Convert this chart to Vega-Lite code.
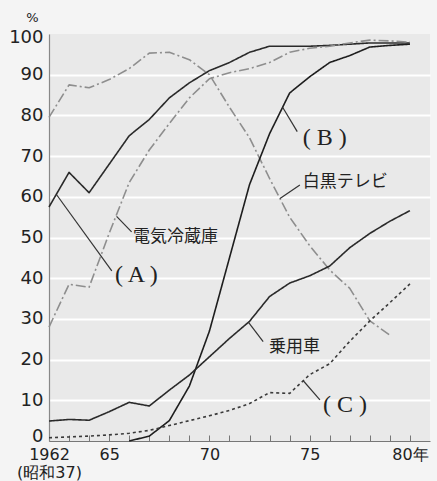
{
  "$schema": "https://vega.github.io/schema/vega-lite/v6.json",
  "width": 381,
  "height": 407,
  "autosize": {"type": "none"},
  "padding": {"left": 49, "top": 34, "right": 7, "bottom": 40},
  "background": "#f4f4f4",
  "config": {"view": {"fill": "#e9e9e9", "stroke": null}},
  "resolve": {"axis": {"x": "independent"}},
  "datasets": {
    "lines": [
      {"s": "A", "year": 1962, "v": 57.5}, {"s": "A", "year": 1963, "v": 66}, {"s": "A", "year": 1964, "v": 61}, {"s": "A", "year": 1965, "v": 68}, {"s": "A", "year": 1966, "v": 75}, {"s": "A", "year": 1967, "v": 79}, {"s": "A", "year": 1968, "v": 84.3}, {"s": "A", "year": 1969, "v": 88}, {"s": "A", "year": 1970, "v": 91}, {"s": "A", "year": 1971, "v": 93}, {"s": "A", "year": 1972, "v": 95.5}, {"s": "A", "year": 1973, "v": 97}, {"s": "A", "year": 1974, "v": 97}, {"s": "A", "year": 1975, "v": 97}, {"s": "A", "year": 1976, "v": 97.2}, {"s": "A", "year": 1977, "v": 97.5}, {"s": "A", "year": 1978, "v": 97.8}, {"s": "A", "year": 1979, "v": 97.8}, {"s": "A", "year": 1980, "v": 97.8},
      {"s": "fridge", "year": 1962, "v": 28}, {"s": "fridge", "year": 1963, "v": 38.5}, {"s": "fridge", "year": 1964, "v": 37.8}, {"s": "fridge", "year": 1965, "v": 51}, {"s": "fridge", "year": 1966, "v": 63.5}, {"s": "fridge", "year": 1967, "v": 71.5}, {"s": "fridge", "year": 1968, "v": 78}, {"s": "fridge", "year": 1969, "v": 84.3}, {"s": "fridge", "year": 1970, "v": 89}, {"s": "fridge", "year": 1971, "v": 90.5}, {"s": "fridge", "year": 1972, "v": 91.5}, {"s": "fridge", "year": 1973, "v": 93}, {"s": "fridge", "year": 1974, "v": 95.5}, {"s": "fridge", "year": 1975, "v": 96.5}, {"s": "fridge", "year": 1976, "v": 97}, {"s": "fridge", "year": 1977, "v": 97.8}, {"s": "fridge", "year": 1978, "v": 98.5}, {"s": "fridge", "year": 1979, "v": 98.3}, {"s": "fridge", "year": 1980, "v": 98},
      {"s": "bw", "year": 1962, "v": 79.5}, {"s": "bw", "year": 1963, "v": 87.5}, {"s": "bw", "year": 1964, "v": 86.8}, {"s": "bw", "year": 1965, "v": 88.8}, {"s": "bw", "year": 1966, "v": 91.5}, {"s": "bw", "year": 1967, "v": 95.3}, {"s": "bw", "year": 1968, "v": 95.5}, {"s": "bw", "year": 1969, "v": 93.7}, {"s": "bw", "year": 1970, "v": 90}, {"s": "bw", "year": 1971, "v": 82}, {"s": "bw", "year": 1972, "v": 74.5}, {"s": "bw", "year": 1973, "v": 64.5}, {"s": "bw", "year": 1974, "v": 55}, {"s": "bw", "year": 1975, "v": 48}, {"s": "bw", "year": 1976, "v": 42}, {"s": "bw", "year": 1977, "v": 37.5}, {"s": "bw", "year": 1978, "v": 29.5}, {"s": "bw", "year": 1979, "v": 26},
      {"s": "B", "year": 1966, "v": 0}, {"s": "B", "year": 1967, "v": 1.2}, {"s": "B", "year": 1968, "v": 5}, {"s": "B", "year": 1969, "v": 13.5}, {"s": "B", "year": 1970, "v": 27}, {"s": "B", "year": 1971, "v": 45}, {"s": "B", "year": 1972, "v": 63}, {"s": "B", "year": 1973, "v": 75.5}, {"s": "B", "year": 1974, "v": 85.5}, {"s": "B", "year": 1975, "v": 89.5}, {"s": "B", "year": 1976, "v": 93}, {"s": "B", "year": 1977, "v": 94.7}, {"s": "B", "year": 1978, "v": 96.8}, {"s": "B", "year": 1979, "v": 97.2}, {"s": "B", "year": 1980, "v": 97.5},
      {"s": "car", "year": 1962, "v": 4.9}, {"s": "car", "year": 1963, "v": 5.3}, {"s": "car", "year": 1964, "v": 5.1}, {"s": "car", "year": 1965, "v": 7.2}, {"s": "car", "year": 1966, "v": 9.5}, {"s": "car", "year": 1967, "v": 8.6}, {"s": "car", "year": 1968, "v": 12.5}, {"s": "car", "year": 1969, "v": 16.2}, {"s": "car", "year": 1970, "v": 20.7}, {"s": "car", "year": 1971, "v": 25.2}, {"s": "car", "year": 1972, "v": 29.4}, {"s": "car", "year": 1973, "v": 35.5}, {"s": "car", "year": 1974, "v": 38.8}, {"s": "car", "year": 1975, "v": 40.6}, {"s": "car", "year": 1976, "v": 43}, {"s": "car", "year": 1977, "v": 47.5}, {"s": "car", "year": 1978, "v": 51}, {"s": "car", "year": 1979, "v": 54}, {"s": "car", "year": 1980, "v": 56.6},
      {"s": "C", "year": 1962, "v": 0.8}, {"s": "C", "year": 1963, "v": 1}, {"s": "C", "year": 1964, "v": 1.2}, {"s": "C", "year": 1965, "v": 1.5}, {"s": "C", "year": 1966, "v": 1.9}, {"s": "C", "year": 1967, "v": 2.6}, {"s": "C", "year": 1968, "v": 3.8}, {"s": "C", "year": 1969, "v": 5}, {"s": "C", "year": 1970, "v": 6.2}, {"s": "C", "year": 1971, "v": 7.5}, {"s": "C", "year": 1972, "v": 9.2}, {"s": "C", "year": 1973, "v": 11.9}, {"s": "C", "year": 1974, "v": 11.7}, {"s": "C", "year": 1975, "v": 16.3}, {"s": "C", "year": 1976, "v": 19}, {"s": "C", "year": 1977, "v": 24.5}, {"s": "C", "year": 1978, "v": 29.5}, {"s": "C", "year": 1979, "v": 34}, {"s": "C", "year": 1980, "v": 38.6}
    ],
    "leaders": [
      {"year": 1965.37, "v": 55.2, "year2": 1966.12, "v2": 51.4},
      {"year": 1962.38, "v": 60.5, "year2": 1965.13, "v2": 41.8},
      {"year": 1973.65, "v": 82.0, "year2": 1974.38, "v2": 76.0},
      {"year": 1973.52, "v": 59.6, "year2": 1974.51, "v2": 62.9},
      {"year": 1971.94, "v": 29.2, "year2": 1972.68, "v2": 24.4},
      {"year": 1974.68, "v": 14.8, "year2": 1975.51, "v2": 10.1}
    ],
    "jp": [
      {"year": 1966.19, "v": 50.1, "t": "電気冷蔵庫"},
      {"year": 1974.66, "v": 63.6, "t": "白黒テレビ"},
      {"year": 1972.97, "v": 23.2, "t": "乗用車"}
    ],
    "ser": [
      {"year": 1965.29, "v": 40.8, "t": "( A )"},
      {"year": 1974.66, "v": 74.4, "t": "( B )"},
      {"year": 1975.66, "v": 8.8, "t": "( C )"}
    ]
  },
  "layer": [
    {
      "data": {"name": "lines"},
      "mark": {"type": "line", "strokeJoin": "round"},
      "encoding": {
        "x": {
          "field": "year", "type": "quantitative",
          "scale": {"domain": [1962, 1981], "nice": false, "zero": false},
          "axis": {
            "orient": "bottom",
            "title": null,
            "values": [1962, 1963, 1964, 1965, 1966, 1967, 1968, 1969, 1970, 1971, 1972, 1973, 1974, 1975, 1976, 1977, 1978, 1979, 1980],
            "labels": false,
            "tickSize": -6, "tickColor": "#777", "tickWidth": 1,
            "domainColor": "#777", "domainWidth": 1.2, "grid": false
          }
        },
        "y": {
          "field": "v", "type": "quantitative",
          "scale": {"domain": [0, 100], "nice": false},
          "axis": {
            "title": "%", "titleAngle": 0, "titleX": -17, "titleY": -13,
            "titleAlign": "center", "titleBaseline": "alphabetic",
            "titleFont": "DejaVu Sans", "titleFontSize": 13, "titleFontWeight": "normal", "titleColor": "#222",
            "values": [0, 10, 20, 30, 40, 50, 60, 70, 80, 90, 100],
            "labelFont": "DejaVu Sans", "labelFontSize": 18, "labelColor": "#222",
            "labelPadding": 6, "ticks": false,
            "labelOffset": {"condition": [{"test": "datum.value == 100", "value": 3}, {"test": "datum.value == 0", "value": -5}], "value": 0},
            "grid": true, "gridWidth": 2,
            "gridColor": {"condition": {"test": "datum.value == 0 || datum.value == 100", "value": "transparent"}, "value": "#ffffff"},
            "domainColor": "#888", "domainWidth": 1.2
          }
        },
        "color": {
          "field": "s", "type": "nominal", "legend": null,
          "scale": {"domain": ["fridge", "bw", "A", "B", "car", "C"], "range": ["#8e8e8e", "#8e8e8e", "#2a2a2a", "#1e1e1e", "#2a2a2a", "#3a3a3a"]}
        },
        "strokeDash": {
          "field": "s", "type": "nominal", "legend": null,
          "scale": {"domain": ["fridge", "bw", "A", "B", "car", "C"], "range": [[10, 3, 2, 3], [10, 3, 2, 3], [1, 0], [1, 0], [1, 0], [3, 3]]}
        },
        "strokeWidth": {
          "field": "s", "type": "nominal", "legend": null,
          "scale": {"domain": ["fridge", "bw", "A", "B", "car", "C"], "range": [1.6, 1.6, 2, 2.2, 1.8, 2.4]}
        }
      }
    },
    {
      "data": {"name": "leaders"},
      "mark": {"type": "rule", "color": "#333", "strokeWidth": 1.2},
      "encoding": {
        "x": {
          "field": "year", "type": "quantitative",
          "axis": {
            "orient": "bottom",
            "title": null,
            "values": [1962, 1965, 1970, 1975, 1980],
            "labelExpr": "datum.value == 1962 ? ['1962', '(昭和37)'] : datum.value == 1980 ? '80年' : format(datum.value - 1900, 'd')",
            "labelFont": "DejaVu Sans", "labelFontSize": 16, "labelColor": "#222",
            "labelLineHeight": 18, "labelPadding": 5, "labelOverlap": false, "labelFlush": false,
            "ticks": false, "domain": false, "grid": false
          }
        },
        "y": {"field": "v", "type": "quantitative"},
        "x2": {"field": "year2"},
        "y2": {"field": "v2"}
      }
    },
    {
      "data": {"name": "jp"},
      "mark": {"type": "text", "align": "left", "baseline": "middle", "font": "Noto Sans CJK JP", "fontSize": 17, "color": "#222"},
      "encoding": {
        "x": {"field": "year", "type": "quantitative", "axis": null},
        "y": {"field": "v", "type": "quantitative"},
        "text": {"field": "t"}
      }
    },
    {
      "data": {"name": "ser"},
      "mark": {"type": "text", "align": "left", "baseline": "middle", "font": "Liberation Serif", "fontSize": 24, "color": "#222"},
      "encoding": {
        "x": {"field": "year", "type": "quantitative", "axis": null},
        "y": {"field": "v", "type": "quantitative"},
        "text": {"field": "t"}
      }
    }
  ]
}
